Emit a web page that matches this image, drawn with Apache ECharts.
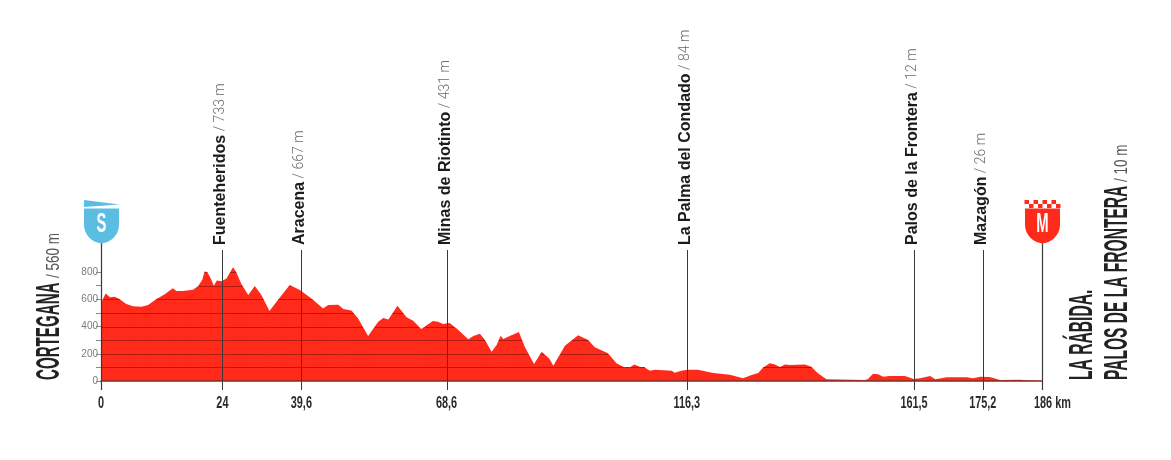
<!DOCTYPE html>
<html><head><meta charset="utf-8">
<style>html,body{margin:0;padding:0;background:#fff}#c{width:1171px;height:460px}</style>
<script src="https://cdn.jsdelivr.net/npm/echarts@6/dist/echarts.min.js"></script>
</head><body><div id="c"></div>
<script>
const kmPoints=[0,0.9,1.8,2.7,3.7,5,6.3,8,9.3,10.9,12.6,14.2,14.9,16.2,18.2,19.2,20,20.5,21,21.7,22.3,22.9,23.8,24.8,25.4,26.1,26.7,27.7,29.1,30.4,31.7,32.7,33.3,34.7,37.3,39.3,41.6,43.9,44.9,46.9,47.9,49.5,50.8,52.8,54.8,55.8,56.8,58.6,60.4,61.7,63.3,65.6,66.6,67.6,68.9,70.3,72.6,73.6,74.9,75.9,77.2,78.2,79,79.5,80.8,82.6,83.8,85.6,87.1,88.6,89.4,91.7,94.3,96.3,97.6,98.6,100.2,101.9,103.5,104.5,105.4,106.5,107.5,108.5,109.5,112.8,113.4,114.7,116,118,121,124.3,126.9,128.6,129.9,130.9,132.2,133.2,134.2,135.2,136.2,139.1,140.4,141.7,143.4,151,151.6,152.6,153.6,154.6,155.9,158.9,160.6,161.9,163.9,164.9,167.2,171.1,172.4,173.8,175.7,177.7,181.7,183,186];
const elevation=[570,643,614,619,600,565,548,545,557,600,636,680,660,660,670,697,741,804,800,753,700,738,733,753,790,834,802,716,631,697,631,557,513,582,704,667,606,533,557,560,528,518,460,330,435,462,452,553,467,443,381,440,435,418,425,386,306,330,347,301,215,264,332,308,330,359,247,125,215,166,112,259,335,301,247,232,203,130,100,100,122,105,100,76,83,76,61,76,83,83,59,46,20,44,59,100,130,122,103,122,117,122,105,56,12,7,15,54,49,32,37,37,15,20,37,12,27,27,20,32,29,7,10,5,3];
const gridLevels=[100,200,300,400,500,600,700,800];
const pinKm=[24,39.6,68.3,115.8,160.7,174.3];
const pinNames=['Fuenteheridos','Aracena','Minas de Riotinto','La Palma del Condado','Palos de la Frontera','Mazagón'];
const pinHeights=['733 m','667 m','431 m','84 m','12 m','26 m'];
const axisKm=[0,24,39.6,68.3,115.8,160.7,174.3,186];
const axisLabels=['0','24','39,6','68,6','116,3','161,5','175,2','186 km'];
const startName='CORTEGANA', startHeight='560 m', finishLine1='LA RÁBIDA.', finishLine2='PALOS DE LA FRONTERA', finishHeight='10 m';
const startKm=0, finishKm=186;

const RED='#ff2a1a', GRID='#ad1c10', PIN='#3a3a3a', BLUE='#5cbde3';
const NARROW='"Liberation Sans Narrow","Liberation Sans"';
const profile=kmPoints.map((k,i)=>[k,elevation[i]]);
const chart=echarts.init(document.getElementById('c'),null,{renderer:'canvas'});

function vtext(x,y,text,size,weight,color,scale,family){
  return {type:'text',x:x,y:y,rotation:Math.PI/2,scaleX:scale,scaleY:1,z2:20,
    style:{text:text,fontFamily:family||NARROW,fontSize:size,fontWeight:weight,fill:color,align:'left',verticalAlign:'middle'}};
}
function htext(x,y,text,size,scale,align){
  return {type:'text',x:x,y:y,scaleX:scale,scaleY:1,z2:20,
    style:{text:text,fontFamily:NARROW,fontSize:size,fontWeight:'bold',fill:'#2b2b2b',align:align||'center',verticalAlign:'middle'}};
}
const shield=(cx,fill)=>({type:'path',z2:15,
  shape:{pathData:'M-17.5 0H17.5V16C17.5 27 9 34 0 35C-9 34 -17.5 27 -17.5 16Z',layout:'center',x:cx-17.5,y:208.5,width:35,height:35},
  style:{fill:fill}});

const option={
  animation:false,
  textStyle:{fontFamily:'"Liberation Sans"'},
  grid:{left:101,right:129,top:272,height:109},
  xAxis:{type:'value',min:0,max:186,z:6,splitLine:{show:false},axisTick:{show:false},axisLabel:{show:false},
    axisLine:{show:true,onZero:false,lineStyle:{color:'#7d3226',width:1.5}}},
  yAxis:{type:'value',min:0,max:800,interval:100,splitLine:{show:false},axisLine:{show:false},
    axisTick:{show:true,length:5,lineStyle:{color:'#8a8a8a',width:1}},
    axisLabel:{margin:3,fontSize:10,color:'#7a7a7a',fontFamily:'"Liberation Sans"',formatter:v=>v%200===0?String(v):''}},
  series:[
    {type:'line',name:'Elevation',data:profile,symbol:'none',clip:false,smooth:false,z:2,
      lineStyle:{width:0},areaStyle:{color:RED,opacity:1}},
    {type:'custom',name:'Grid',data:profile,clip:false,z:3,encode:{x:0,y:1},silent:true,
      renderItem:(p,api)=>{
        const i=p.dataIndex; if(i>=profile.length-1) return null;
        const [x0,v0]=profile[i],[x1,v1]=profile[i+1],kids=[];
        gridLevels.forEach(L=>{
          if(v0<L&&v1<L) return;
          const xa=v0>=L?x0:x0+(L-v0)/(v1-v0)*(x1-x0);
          const xb=v1>=L?x1:x0+(L-v0)/(v1-v0)*(x1-x0);
          const a=api.coord([xa,L]),b=api.coord([xb,L]),y=Math.round(a[1])+0.5;
          kids.push({type:'line',shape:{x1:a[0],y1:y,x2:b[0],y2:y},style:{stroke:GRID,lineWidth:1}});
        });
        return {type:'group',children:kids};
      }},
    {type:'custom',name:'Pins',data:pinKm.map((k,i)=>[k,0,i]),clip:false,z:4,encode:{x:0,y:1},silent:true,
      renderItem:(p,api)=>{
        const i=p.dataIndex,x=Math.round(api.coord([pinKm[i],0])[0])+0.5,bottom=api.coord([0,0])[1];
        return {type:'group',children:[
          {type:'line',shape:{x1:x,y1:bottom+9,x2:x,y2:250},style:{stroke:PIN,lineWidth:1}},
          {type:'text',x:x-2,y:245,rotation:Math.PI/2,z2:20,style:{
            text:'{a|'+pinNames[i]+'}{b| / '+pinHeights[i]+'}',align:'left',verticalAlign:'middle',
            rich:{a:{fontFamily:'"Liberation Sans"',fontSize:16,fontWeight:'bold',fill:'#1c1c1c'},
                  b:{fontFamily:'Roboto',fontSize:14,fontWeight:300,fill:'#6a6a6a'}}}}
        ]};
      }},
    {type:'custom',name:'Ends',data:[[startKm,0],[finishKm,0]],clip:false,z:5,encode:{x:0,y:1},silent:true,
      renderItem:(p,api)=>{
        const isStart=p.dataIndex===0;
        const x=Math.round(api.coord([isStart?startKm:finishKm,0])[0])+0.5,bottom=api.coord([0,0])[1];
        const kids=[{type:'line',shape:{x1:x,y1:bottom+9,x2:x,y2:243},style:{stroke:PIN,lineWidth:1.2}}];
        if(isStart){
          kids.push(shield(x,BLUE));
          kids.push({type:'polygon',shape:{points:[[x-17.5,200],[x+18,204.5],[x-17.5,207]]},style:{fill:BLUE}});
          const t=htext(x,225,'S',27,0.55); t.style.fill='#fff'; kids.push(t);
        }else{
          kids.push(shield(x,RED));
          for(let r=0;r<2;r++)for(let c=0;c<8;c++){
            if((r+c)%2===0) kids.push({type:'rect',shape:{x:x-18+c*4.5,y:200+r*4,width:4.5,height:4},style:{fill:RED}});
          }
          const t=htext(x,225,'M',27,0.55); t.style.fill='#fff'; kids.push(t);
        }
        return {type:'group',children:kids};
      }},
    {type:'custom',name:'Labels',data:axisKm.map(k=>[k,0]),clip:false,z:5,encode:{x:0,y:1},silent:true,
      renderItem:(p,api)=>{
        const i=p.dataIndex,c=api.coord([axisKm[i],0]);
        const last=i===axisKm.length-1;
        return htext(last?c[0]-8:c[0],c[1]+23,axisLabels[i],16,0.68,last?'left':'center');
      }},
    {type:'custom',name:'Titles',data:[[0,0]],clip:false,z:5,encode:{x:0,y:1},silent:true,
      renderItem:()=>({type:'group',children:[
        vtext(50,380,startName,34,'bold','#222',0.445),
        vtext(54,278,'/ '+startHeight,18,'normal','#555',0.75),
        vtext(1083,380,finishLine1,34,'bold','#222',0.46),
        vtext(1118,380,finishLine2,34,'bold','#222',0.458),
        vtext(1122,182,'/ '+finishHeight,18,'normal','#555',0.75)
      ]})}
  ]
};
chart.setOption(option);
</script></body></html>
